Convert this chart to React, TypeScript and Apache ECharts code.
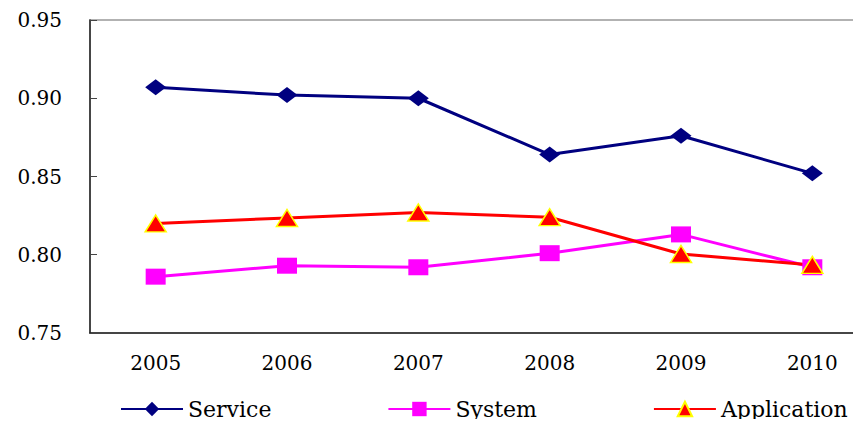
import React, { useEffect, useRef } from "react";
import * as echarts from "echarts";

const categories = ["2005", "2006", "2007", "2008", "2009", "2010"];
const serviceValues = [0.907, 0.902, 0.9, 0.864, 0.876, 0.852];
const systemValues = [0.786, 0.793, 0.792, 0.801, 0.813, 0.792];
const applicationValues = [0.82, 0.8235, 0.827, 0.824, 0.8005, 0.7935];

const FONT = "DejaVu Serif";

export default function App() {
  const ref = useRef<HTMLDivElement>(null);
  useEffect(() => {
    if (!ref.current) return;
    const chart = echarts.init(ref.current, undefined, { renderer: "svg" });
    chart.setOption({
      animation: false,
      backgroundColor: "#ffffff",
      grid: {
        left: 90,
        top: 20,
        right: -17,
        bottom: 94,
        outerBoundsMode: "none",
        containLabel: false,
        show: true,
        borderColor: "#999999",
        borderWidth: 1.5,
      },
      legend: {
        left: 115,
        top: 393,
        itemWidth: 62,
        itemHeight: 18,
        itemGap: 116,
        textStyle: { fontFamily: FONT, fontSize: 22, color: "#000" },
        data: ["Service", "System", "Application"],
      },
      xAxis: {
        type: "category",
        data: categories,
        boundaryGap: true,
        axisLine: { lineStyle: { color: "#222", width: 1.5 } },
        axisTick: { inside: true, length: 6, lineStyle: { color: "#444" } },
        axisLabel: { fontFamily: FONT, fontSize: 20, color: "#000", margin: 20 },
      },
      yAxis: {
        type: "value",
        min: 0.75,
        max: 0.95,
        interval: 0.05,
        axisLine: { show: true, lineStyle: { color: "#222", width: 1.5 } },
        axisTick: { show: true, inside: true, length: 7, lineStyle: { color: "#444" } },
        splitLine: { show: false },
        axisLabel: {
          fontFamily: FONT,
          fontSize: 20,
          color: "#000",
          margin: 28,
          formatter: (v: number) => v.toFixed(2),
        },
      },
      series: [
        {
          name: "Service",
          type: "line",
          data: serviceValues,
          symbol: "diamond",
          symbolSize: [21, 16],
          lineStyle: { color: "#000080", width: 3 },
          itemStyle: { color: "#000080" },
        },
        {
          name: "System",
          type: "line",
          data: systemValues,
          symbol: "rect",
          symbolSize: [20, 16],
          lineStyle: { color: "#ff00ff", width: 3 },
          itemStyle: { color: "#ff00ff" },
        },
        {
          name: "Application",
          type: "line",
          data: applicationValues,
          symbol: "triangle",
          symbolSize: [21, 17],
          lineStyle: { color: "#ff0000", width: 3 },
          itemStyle: { color: "#ff0000", borderColor: "#ffff00", borderWidth: 1.5 },
        },
      ],
    });
    return () => chart.dispose();
  }, []);
  return <div ref={ref} style={{ width: 861, height: 427, margin: -8 }} />;
}
